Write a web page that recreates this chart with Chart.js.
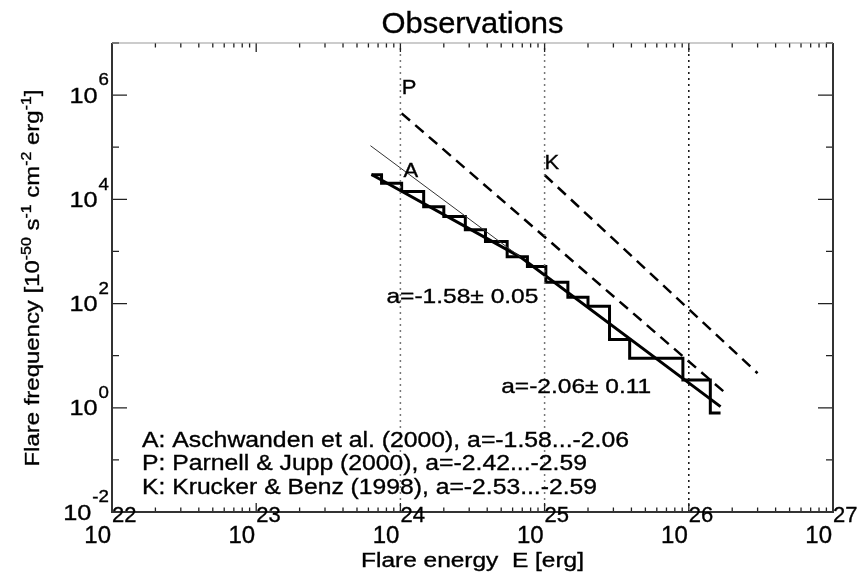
<!DOCTYPE html>
<html>
<head>
<meta charset="utf-8">
<script src="https://cdn.jsdelivr.net/npm/chart.js@4.4.1/dist/chart.umd.min.js"></script>
<style>
  html, body { margin: 0; padding: 0; background: #fff; }
  #wrap { width: 861px; height: 576px; }
</style>
</head>
<body>
<div id="wrap"><canvas id="flareChart" width="861" height="576"></canvas></div>
<script>
// observed flare histogram: bin left edges [erg] (last entry = right end) and frequency per bin
const histEnergy = [6.3e23, 7.4e23, 1.02e24, 1.45e24, 2.0e24, 2.82e24, 3.89e24, 5.5e24, 7.6e24,
                    1.02e25, 1.45e25, 2.0e25, 2.82e25, 3.89e25, 9.1e25, 1.41e26, 1.66e26];
const histFreq = [2.95e4, 2.04e4, 1.41e4, 7.2e3, 4.7e3, 2.6e3, 1.55e3, 794, 513,
                  257, 132, 89, 20.4, 8.9, 3.4, 0.79, 0.79];

// broken power-law fit (a=-1.58 below the break, a=-2.06 above)
const fitEnergy = [6.3e23, 6.8e24, 1.66e26];
const fitFreq = [3.0e4, 780, 1.05];

// a=-2.06 slope extended to low energies (thin line)
const extEnergy = [6.2e23, 6.8e24];
const extFreq = [1.07e5, 780];

// Parnell & Jupp (P) and Krucker & Benz (K)
const pEnergy = [1.02e24, 1.86e26];
const pFreq = [4.47e5, 1.76];
const kEnergy = [1.0e25, 3.0e26];
const kFreq = [2.93e4, 4.6];

// dotted reference energies
const refEnergy = [1e24, 1e25, 1e26];

// axis ranges and labelled decades
const xRange = [1e22, 1e27];
const yRange = [1e-2, 1e7];
const xTickExp = [22, 23, 24, 25, 26, 27];
const yTickExp = [-2, 0, 2, 4, 6];

const legendLines = [
    'A: Aschwanden et al. (2000), a=-1.58...-2.06',
    'P: Parnell & Jupp (2000), a=-2.42...-2.59',
    'K: Krucker & Benz (1998), a=-2.53...-2.59',
];

const FONT = "'Liberation Sans', Arial, Helvetica, sans-serif";

const pts = (xs, ys) => xs.map((x, i) => ({ x, y: ys[i] }));

// draws text made of normal / superscript parts, stretched horizontally by sx
function drawRich(ctx, parts, x, y, o) {
    const size = o.size, sup = o.supSize || size * 0.7, rise = o.rise || size * 0.4;
    let w = 0;
    const widths = parts.map(([t, s]) => {
        ctx.font = `${s ? sup : size}px ${FONT}`;
        const m = ctx.measureText(t).width;
        w += m;
        return m;
    });
    const sx = o.width ? o.width / w : (o.sx || 1);
    let start = 0;
    if (o.align === 'center') start = -w / 2;
    if (o.align === 'right') start = -w;
    ctx.save();
    ctx.translate(x, y);
    if (o.rotate) ctx.rotate(o.rotate);
    ctx.scale(sx, 1);
    ctx.fillStyle = '#000';
    ctx.strokeStyle = '#000';
    ctx.lineWidth = 0.35;
    ctx.textBaseline = 'alphabetic';
    ctx.textAlign = 'left';
    let cx = start;
    parts.forEach(([t, s], i) => {
        ctx.font = `${s ? sup : size}px ${FONT}`;
        ctx.fillText(t, cx, s ? -rise : 0);
        ctx.strokeText(t, cx, s ? -rise : 0);
        cx += widths[i];
    });
    ctx.restore();
}

const framePlugin = {
    id: 'frame',
    afterDatasetsDraw(chart) {
        const { ctx, chartArea: a, scales: { x, y } } = chart;
        ctx.save();
        ctx.lineCap = 'butt';

        // x ticks, bottom and top, pointing inward
        ctx.strokeStyle = '#222';
        ctx.lineWidth = 1.3;
        for (let d = 22; d <= 27; d++) {
            for (let k = 1; k <= 9; k++) {
                const v = k * Math.pow(10, d);
                if (v > xRange[1] * 1.0001) break;
                const px = x.getPixelForValue(v);
                const len = k === 1 ? 9 : 4.5;
                ctx.beginPath();
                ctx.moveTo(px, a.bottom); ctx.lineTo(px, a.bottom - len);
                ctx.moveTo(px, a.top); ctx.lineTo(px, a.top + len);
                ctx.stroke();
            }
        }
        // y ticks, left and right: labelled decades long, odd decades short
        for (let e = -2; e <= 7; e++) {
            const py = y.getPixelForValue(Math.pow(10, e));
            const len = e % 2 === 0 ? 15 : 7;
            ctx.beginPath();
            ctx.moveTo(a.left, py); ctx.lineTo(a.left + len, py);
            ctx.moveTo(a.right, py); ctx.lineTo(a.right - len, py);
            ctx.stroke();
        }

        // frame
        ctx.lineWidth = 2;
        ctx.strokeStyle = '#333';
        ctx.beginPath();
        ctx.moveTo(a.left, a.top); ctx.lineTo(a.left, a.bottom);
        ctx.lineTo(a.right, a.bottom); ctx.lineTo(a.right, a.top);
        ctx.stroke();
        ctx.lineWidth = 1.2;
        ctx.strokeStyle = '#999';
        ctx.beginPath();
        ctx.moveTo(a.left, a.top); ctx.lineTo(a.right, a.top);
        ctx.stroke();

        // tick labels
        xTickExp.forEach(e => {
            const px = x.getPixelForValue(Math.pow(10, e));
            drawRich(ctx, [['10', false]], px - 1, a.bottom + 31, { size: 24, align: 'right' });
            drawRich(ctx, [[String(e), true]], px, a.bottom + 19, { size: 22, supSize: 22, rise: 0 });
        });
        yTickExp.forEach(e => {
            const py = y.getPixelForValue(Math.pow(10, e));
            ctx.font = `17px ${FONT}`;
            const ew = ctx.measureText(String(e)).width * 1.1;
            drawRich(ctx, [[String(e), true]], a.left - 3, py - 3, { size: 17, supSize: 17, rise: 0, align: 'right', sx: 1.1 });
            drawRich(ctx, [['10', false]], a.left - 4 - ew, py + 7.5, { size: 22, align: 'right', sx: 1.15 });
        });

        // titles
        drawRich(ctx, [['Observations', false]], (a.left + a.right) / 2, 33, { size: 29, align: 'center', width: 182 });
        drawRich(ctx, [['Flare energy  E [erg]', false]], (a.left + a.right) / 2, 567, { size: 20, align: 'center', width: 223 });
        drawRich(ctx, [
            ['Flare frequency [10', false], ['-50', true], [' s', false], ['-1', true],
            [' cm', false], ['-2', true], [' erg', false], ['-1', true], [']', false],
        ], 39, 278, { size: 21, supSize: 14, rise: 8, align: 'center', rotate: -Math.PI / 2, width: 377 });

        // curve labels in data coordinates
        const at = (e, f) => [x.getPixelForValue(e), y.getPixelForValue(f)];
        const lab = (t, e, f, o) => { const [px, py] = at(e, f); drawRich(ctx, [[t, false]], px, py, o); };
        lab('P', 1.02e24, 1.05e6, { size: 20, sx: 1.1 });
        lab('A', 1.05e24, 2.7e4, { size: 20, sx: 1.1 });
        lab('K', 1.0e25, 3.9e4, { size: 20, sx: 1.1 });
        lab('a=-1.58\u00b1 0.05', 8.0e23, 101, { size: 21, width: 152 });
        lab('a=-2.06\u00b1 0.11', 5.0e24, 1.9, { size: 21, width: 150 });

        // reference list
        const legendWidths = [487, 445, 455];
        legendLines.forEach((t, i) => {
            drawRich(ctx, [[t, false]], a.left + 30, 447 + i * 23.3, { size: 22, width: legendWidths[i] });
        });
        ctx.restore();
    },
};

const refSets = refEnergy.map((e, i) => ({
    data: pts([e, e], yRange),
    borderColor: i === 2 ? '#111' : '#777',
    borderWidth: 1.5,
    borderDash: [2, 4],
}));

new Chart(document.getElementById('flareChart'), {
    type: 'line',
    data: {
        datasets: [
            ...refSets,
            { data: pts(extEnergy, extFreq), borderColor: '#333', borderWidth: 1 },
            { data: pts(pEnergy, pFreq), borderColor: '#000', borderWidth: 2.5, borderDash: [11, 7] },
            { data: pts(kEnergy, kFreq), borderColor: '#000', borderWidth: 2.5, borderDash: [11, 7] },
            { data: pts(fitEnergy, fitFreq), borderColor: '#000', borderWidth: 3 },
            { data: pts(histEnergy, histFreq), borderColor: '#000', borderWidth: 3, stepped: 'before', borderJoinStyle: 'miter' },
        ],
    },
    options: {
        responsive: false,
        animation: false,
        devicePixelRatio: 1,
        layout: { padding: { left: 112, right: 28, top: 43, bottom: 64 } },
        elements: { point: { radius: 0 }, line: { tension: 0, fill: false } },
        plugins: { legend: { display: false }, tooltip: { enabled: false }, title: { display: false } },
        scales: {
            x: { type: 'logarithmic', min: xRange[0], max: xRange[1], display: false },
            y: { type: 'logarithmic', min: yRange[0], max: yRange[1], display: false },
        },
    },
    plugins: [framePlugin],
});
</script>
</body>
</html>
